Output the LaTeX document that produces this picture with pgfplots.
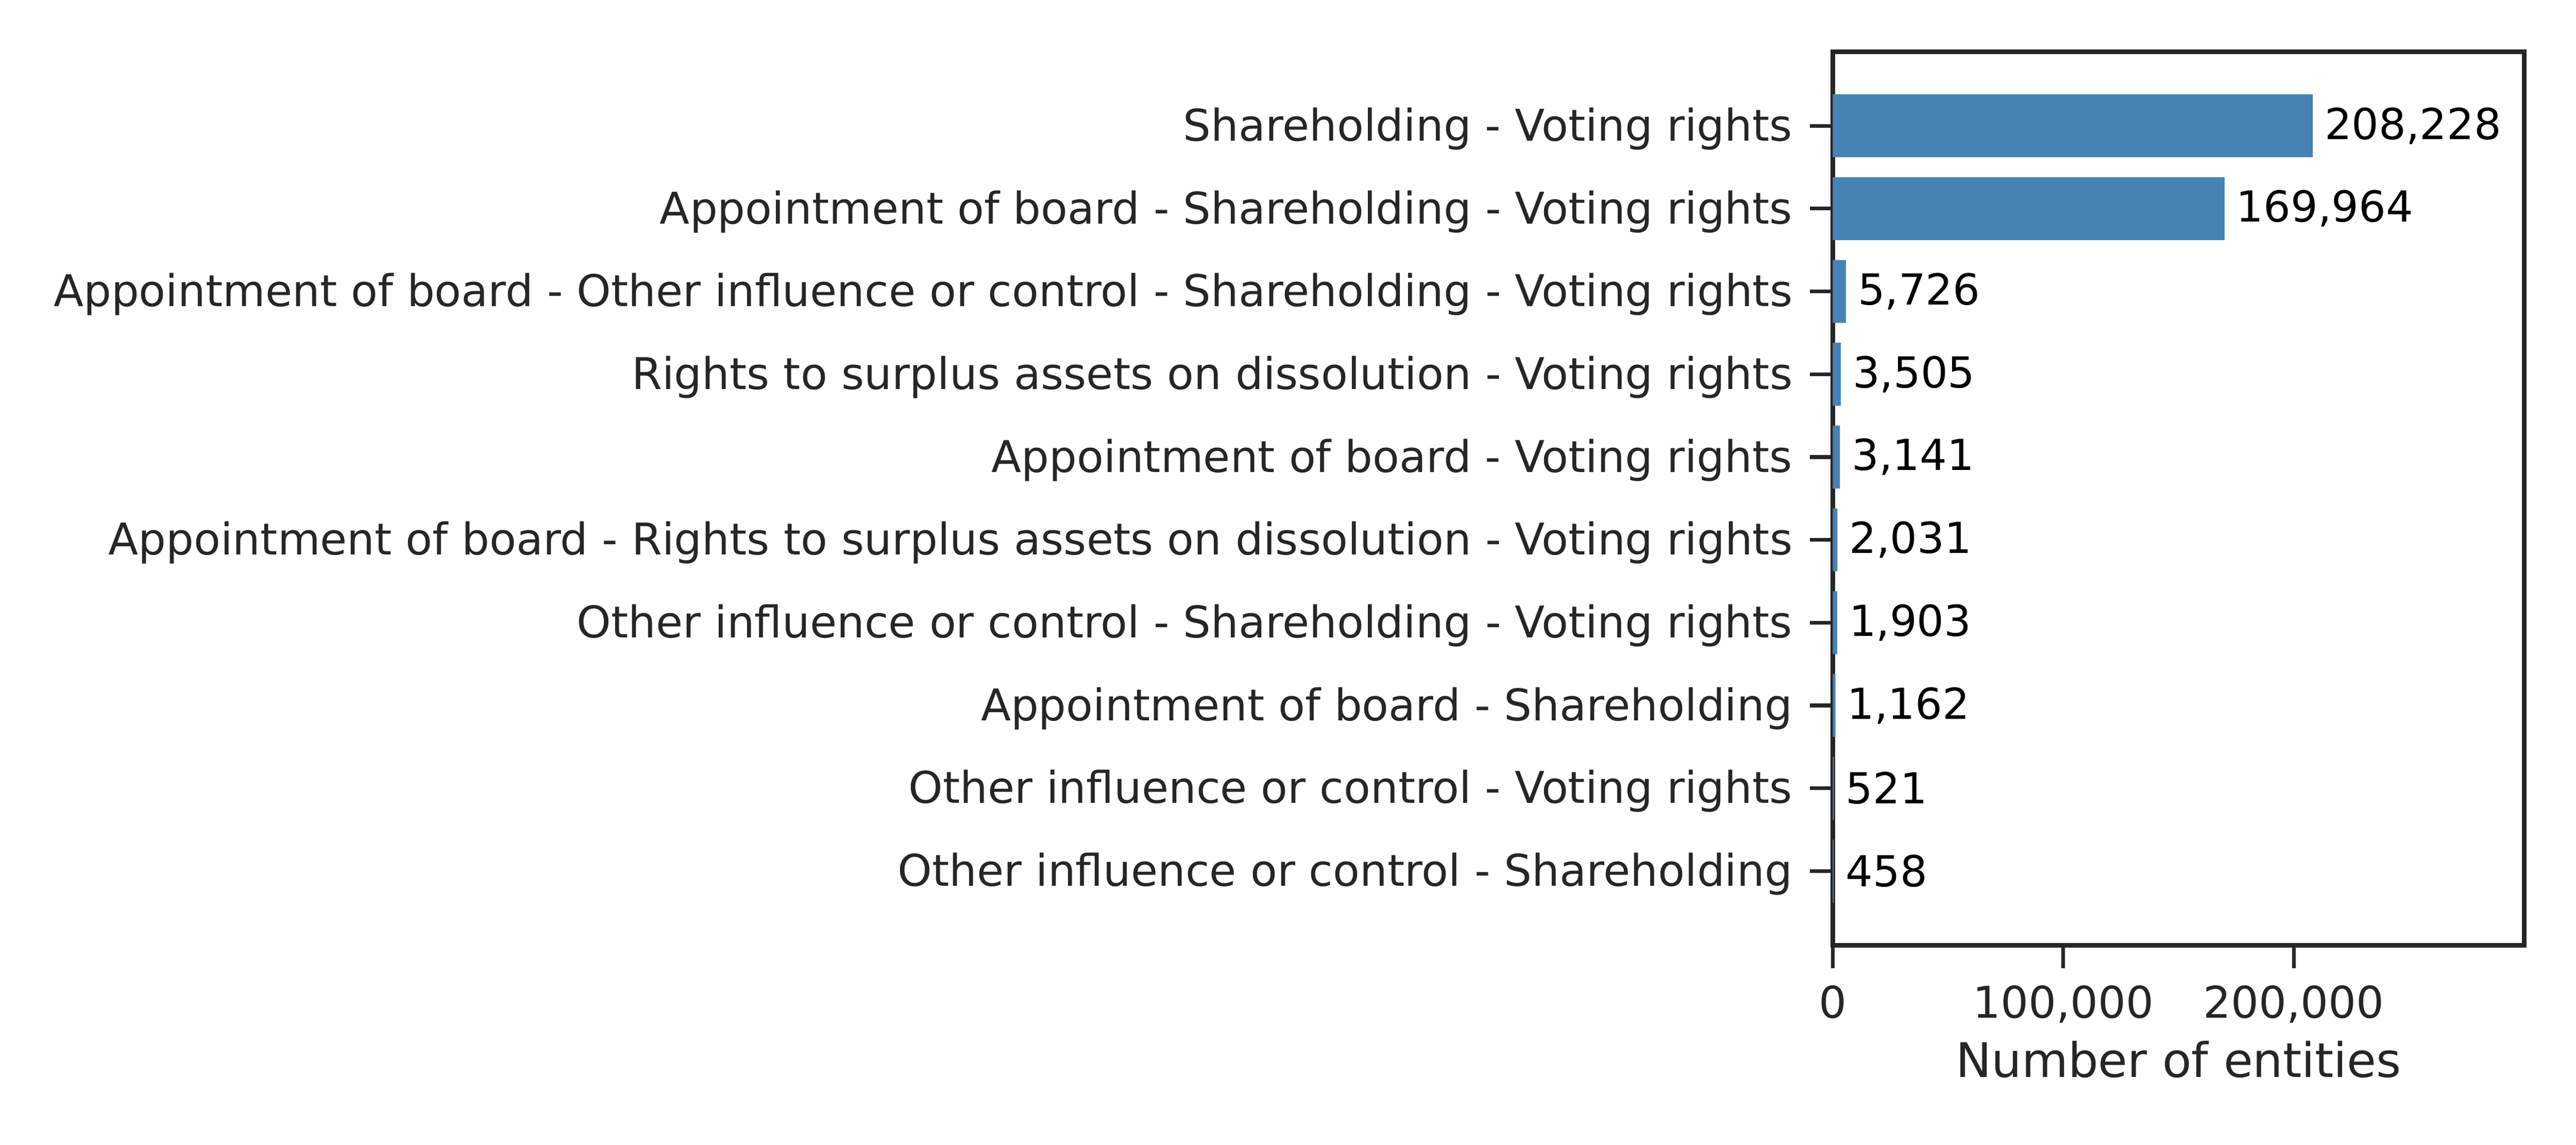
\documentclass[border=0pt]{standalone}
\usepackage{pgfplots}
\pgfplotsset{compat=1.18}
\usepackage{pgfplotstable}
\usepackage{fontspec}
\setmainfont{DejaVu Sans}
\definecolor{barblue}{HTML}{4682B4}
\definecolor{spine}{HTML}{262626}

% rows from top (0) to bottom (9)
\pgfplotstableread{
pos count lab
0 208228 208,228
1 169964 169,964
2 5726 5,726
3 3505 3,505
4 3141 3,141
5 2031 2,031
6 1903 1,903
7 1162 1,162
8 521 521
9 458 458
}\entities

\begin{document}
\begin{tikzpicture}
\begin{axis}[
    name=ax,
    scale only axis, width=139.2pt, height=179.8pt,
    xbar, bar width=0.76,
    xmin=0, xmax=300000, ymin=-0.895, ymax=9.895, y dir=reverse,
    xtick={0,100000,200000}, scaled x ticks=false,
    xticklabels={0,{100,000},{200,000}},
    ytick={0,...,9},
    yticklabels={
        Shareholding - Voting rights,
        Appointment of board - Shareholding - Voting rights,
        Appointment of board - Other influence or control - Shareholding - Voting rights,
        Rights to surplus assets on dissolution - Voting rights,
        Appointment of board - Voting rights,
        Appointment of board - Rights to surplus assets on dissolution - Voting rights,
        Other influence or control - Shareholding - Voting rights,
        Appointment of board - Shareholding,
        Other influence or control - Voting rights,
        Other influence or control - Shareholding},
    axis line style={spine, line width=0.96pt},
    tick align=outside, tick pos=left, major tick length=4.6pt,
    every tick/.style={spine, line width=0.75pt},
    ticklabel style={font=\fontsize{8.8}{10.5}\selectfont, text=spine},
    yticklabel style={yshift=-0.6pt},
    xlabel={Number of entities},
    xlabel style={font=\fontsize{9.6}{11.5}\selectfont, text=spine, yshift=3.3pt},
    nodes near coords, point meta=explicit symbolic,
    nodes near coords style={anchor=west, inner xsep=2.2pt,
        font=\fontsize{8.6}{10.2}\selectfont, text=black},
]
\addplot[fill=barblue, draw=none] table[x=count, y=pos, meta=lab] {\entities};
\end{axis}
\pgfresetboundingbox
\path[use as bounding box] ([xshift=-368.9pt,yshift=-40.2pt]ax.south west) rectangle ([xshift=10.4pt,yshift=10.4pt]ax.north east);
\end{tikzpicture}
\end{document}
